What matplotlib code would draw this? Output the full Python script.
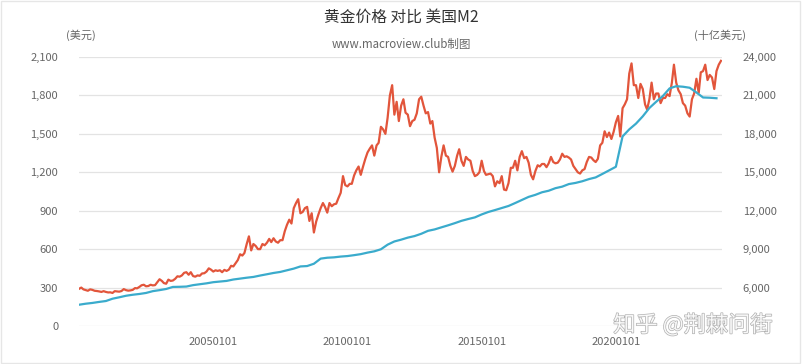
import matplotlib
matplotlib.use("Agg")
import matplotlib.pyplot as plt
import matplotlib.patheffects as pe
import matplotlib.dates as mdates
import matplotlib.ticker as mticker
import pandas as pd

plt.rcParams['font.family'] = ['Noto Sans CJK SC', 'DejaVu Sans']

# gold price, USD/oz, monthly 2000-01 .. 2023-12
gold_prices = [
    290, 300, 286, 280, 275, 286, 282, 275, 273, 270, 266, 272,
    266, 262, 263, 258, 272, 270, 268, 273, 288, 280, 276, 278,
    282, 296, 294, 305, 318, 322, 310, 312, 322, 317, 319, 342,
    365, 352, 335, 330, 362, 352, 355, 368, 388, 385, 395, 415,
    420, 400, 420, 390, 385, 395, 392, 410, 412, 425, 450, 440,
    425, 435, 430, 435, 420, 438, 430, 440, 470, 465, 490, 515,
    560, 550, 570, 640, 700, 590, 640, 625, 600, 600, 640, 630,
    650, 680, 655, 685, 660, 650, 670, 670, 740, 790, 830, 800,
    920, 960, 990, 880, 890, 920, 930, 820, 880, 730, 815, 870,
    920, 960, 930, 885, 960, 935, 950, 955, 1000, 1040, 1170, 1100,
    1090, 1110, 1110, 1175, 1215, 1245, 1180, 1245, 1305, 1355, 1385, 1410,
    1330, 1410, 1430, 1555, 1535, 1500, 1625, 1800, 1880, 1650, 1750, 1600,
    1720, 1770, 1665, 1650, 1560, 1600, 1610, 1660, 1770, 1790, 1720, 1660,
    1670, 1580, 1600, 1470, 1390, 1200, 1320, 1410, 1330, 1320, 1250, 1205,
    1250, 1330, 1380, 1290, 1250, 1320, 1300, 1290, 1210, 1170, 1180, 1200,
    1290, 1210, 1180, 1185, 1190, 1170, 1090, 1130, 1115, 1170, 1065, 1060,
    1115, 1235, 1235, 1290, 1215, 1320, 1365, 1310, 1320, 1275, 1180, 1145,
    1210, 1255, 1245, 1265, 1265, 1240, 1270, 1320, 1280, 1270, 1275, 1300,
    1345, 1320, 1325, 1315, 1300, 1250, 1225, 1200, 1190, 1215, 1225, 1280,
    1320, 1315, 1295, 1280, 1305, 1410, 1430, 1520, 1475, 1510, 1460, 1515,
    1590, 1640, 1480, 1700, 1730, 1770, 1970, 2050, 1880, 1880, 1780, 1890,
    1850, 1730, 1690, 1770, 1900, 1770, 1815, 1815, 1740, 1780, 1780, 1810,
    1795, 1900, 2040, 1900, 1840, 1810, 1740, 1720, 1660, 1635, 1770, 1815,
    1930, 1820, 1980, 1990, 2040, 1920, 1960, 1940, 1850, 1990, 2040, 2070,
]

# US M2, billions USD, quarterly 2000Q1 .. 2023Q4
m2_values = [
    4660, 4740, 4800, 4880,
    4950, 5130, 5240, 5360,
    5440, 5500, 5580, 5720,
    5800, 5890, 6050, 6060,
    6080, 6190, 6260, 6330,
    6420, 6470, 6520, 6630,
    6700, 6770, 6830, 6940,
    7040, 7140, 7220, 7350,
    7480, 7650, 7680, 7860,
    8260, 8330, 8360, 8420,
    8460, 8530, 8610, 8730,
    8830, 8990, 9350, 9600,
    9740, 9900, 10020, 10200,
    10430, 10540, 10700, 10860,
    11030, 11210, 11350, 11480,
    11710, 11900, 12050, 12210,
    12370, 12600, 12840, 13080,
    13240, 13440, 13560, 13760,
    13880, 14080, 14170, 14300,
    14470, 14600, 14870, 15150,
    15430, 17800, 18350, 18800,
    19370, 20020, 20500, 20950,
    21550, 21720, 21680, 21600,
    21230, 20840, 20820, 20780,
]

gold_dates = pd.date_range('2000-01-01', periods=len(gold_prices), freq='MS')
m2_dates = pd.date_range('2000-01-01', periods=len(m2_values), freq='QS')

x_ticks = ['2005-01-01', '2010-01-01', '2015-01-01', '2020-01-01']
left_ticks = [0, 300, 600, 900, 1200, 1500, 1800, 2100]
right_ticks = [6000, 9000, 12000, 15000, 18000, 21000, 24000]

gray = '#666666'

fig = plt.figure(figsize=(8.02, 3.64), dpi=100)
ax = fig.add_axes([79 / 802, 1 - 326 / 364, (722 - 79) / 802, (326 - 57) / 364])

ax.plot(gold_dates, gold_prices, color='#e2553b', lw=1.6, zorder=3)
ax.set_ylim(0, 2100)
ax.set_yticks(left_ticks)
ax.yaxis.set_major_formatter(mticker.StrMethodFormatter('{x:,.0f}'))
ax.set_xlim(pd.Timestamp('2000-01-01'), pd.Timestamp('2023-12-15'))
ax.set_xticks(pd.to_datetime(x_ticks))
ax.xaxis.set_major_formatter(mdates.DateFormatter('%Y%m%d'))
ax.grid(axis='y', color='#e3e3e3', lw=0.9)
ax.set_axisbelow(True)

ax2 = ax.twinx()
ax2.plot(m2_dates, m2_values, color='#3aabcc', lw=1.6, zorder=3)
ax2.set_ylim(3000, 24000)
ax2.set_yticks(right_ticks)
ax2.yaxis.set_major_formatter(mticker.StrMethodFormatter('{x:,.0f}'))

for a in (ax, ax2):
    for s in a.spines.values():
        s.set_visible(False)
    a.tick_params(length=0, labelsize=8, colors=gray)
ax.tick_params(axis='y', pad=15)
ax2.tick_params(axis='y', pad=15)
ax.tick_params(axis='x', pad=8)

fig.text(0.5, 1 - 17 / 364, '黄金价格 对比 美国M2', ha='center', va='center',
         fontsize=11.3, color='#333333')
fig.text(0.5, 1 - 44 / 364, 'www.macroview.club制图', ha='center', va='center',
         fontsize=8.3, color=gray)
fig.text(81 / 802, 1 - 35 / 364, '(美元)', ha='center', va='center', fontsize=8, color=gray)
fig.text(720 / 802, 1 - 35 / 364, '(十亿美元)', ha='center', va='center', fontsize=8, color=gray)

# watermark
fig.text(693 / 802, 1 - 325 / 364, '知乎 @荆棘问街', ha='center', va='center',
         fontsize=16, color='white', alpha=0.9,
         path_effects=[pe.withStroke(linewidth=1.0, foreground='#a8a8a8')])

fig.patches.append(plt.Rectangle((0.001, 0.002), 0.997, 0.995, transform=fig.transFigure,
                                 fill=False, edgecolor='#e6e6e6', lw=1))

fig.savefig('out.png', dpi=100)
